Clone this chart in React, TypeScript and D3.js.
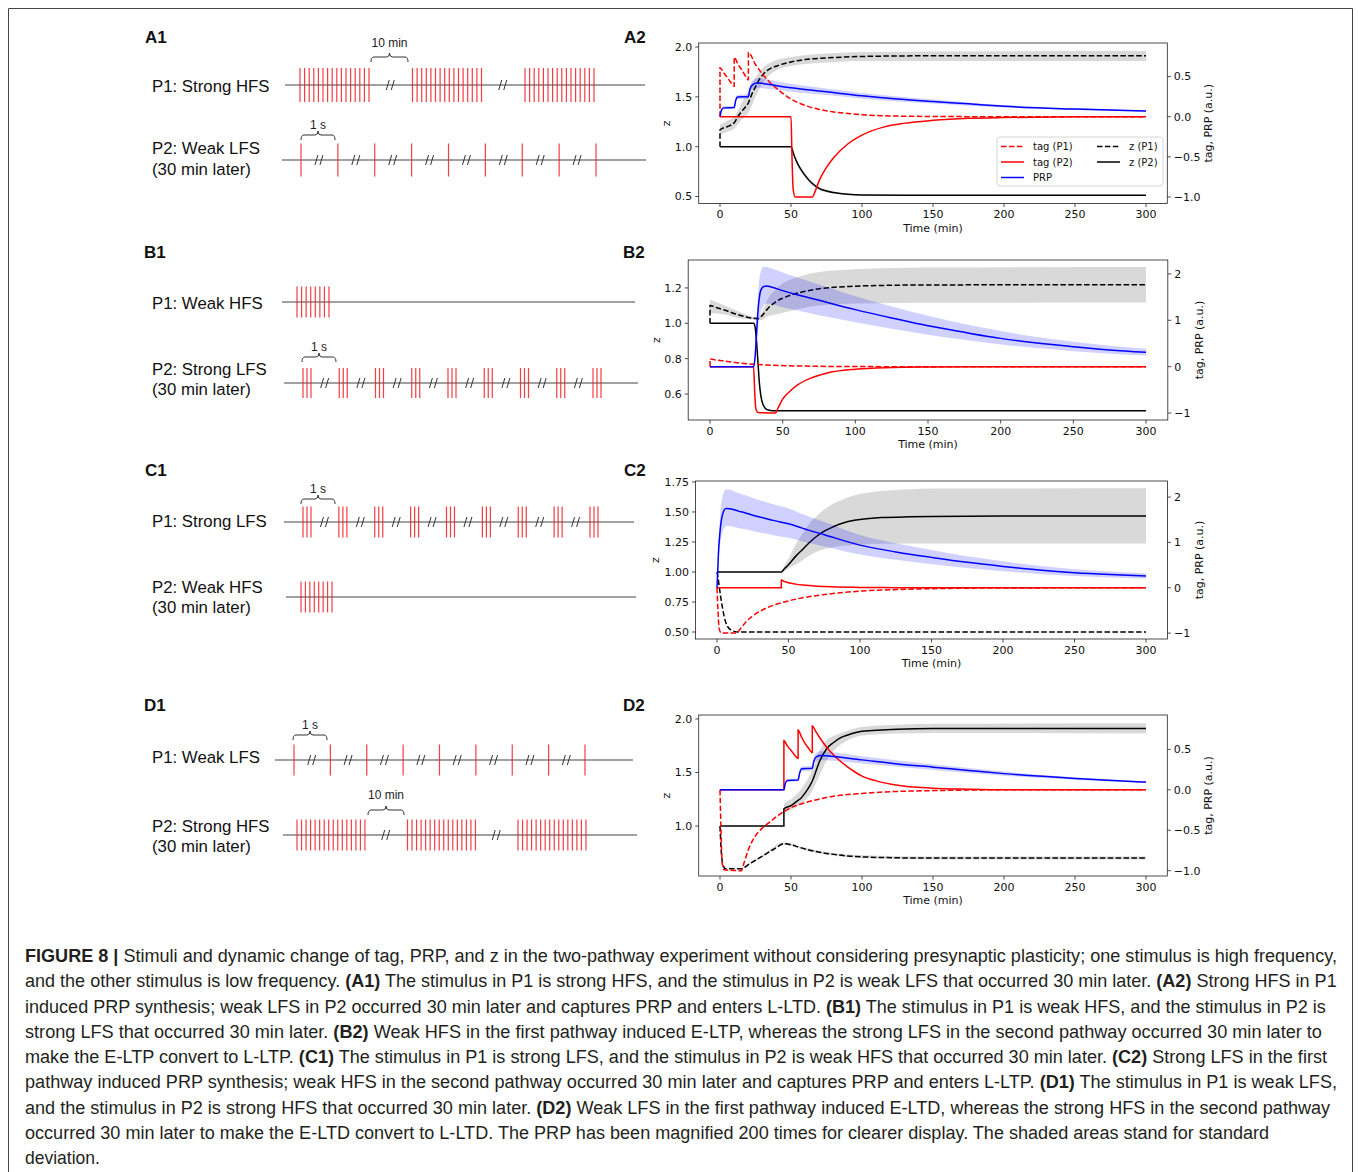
import * as d3 from 'd3'
import { useLayoutEffect, useRef, useState } from 'react'

type Pt = [number, number]
type Band = [number, number, number]

// ---------- time axis (shared) ----------
const TIME_TICKS = [0, 50, 100, 150, 200, 250, 300]

// ---------- A2 ----------
const A2_zTicks = [0.5, 1.0, 1.5, 2.0]
const A2_rTicks = [-1.0, -0.5, 0.0, 0.5]
const A2_tagP1: Pt[] = [[0, 0], [0, 0.61], [2.5, 0.55], [5, 0.49], [7.5, 0.43], [10, 0.38], [10, 0.74], [12.5, 0.66], [15, 0.59], [17.5, 0.52], [20, 0.46], [20, 0.8], [25, 0.65], [30, 0.53], [35, 0.43], [40, 0.35], [45, 0.28], [50, 0.22], [60, 0.14], [70, 0.09], [80, 0.06], [90, 0.04], [100, 0.025], [120, 0.01], [150, 0.003], [200, 0], [300, 0]]
const A2_tagP2: Pt[] = [[0, 0], [50, 0], [50.7, -0.5], [51.5, -0.9], [53, -1], [65, -1], [67, -0.93], [70, -0.79], [75, -0.63], [80, -0.51], [90, -0.34], [100, -0.23], [115, -0.13], [130, -0.08], [150, -0.045], [175, -0.02], [200, -0.01], [250, -0.002], [300, 0]]
const A2_PRP: Pt[] = [[0, 0], [1, 0.08], [2.5, 0.11], [10, 0.115], [11, 0.2], [12.5, 0.245], [20, 0.25], [21, 0.34], [23, 0.4], [26, 0.42], [30, 0.415], [40, 0.385], [50, 0.36], [75, 0.31], [100, 0.26], [125, 0.22], [150, 0.19], [175, 0.16], [200, 0.13], [250, 0.095], [300, 0.07]]
const A2_prpBand: Band[] = [[0, 0, 0], [1, 0.065, 0.095], [2.5, 0.09, 0.13], [10, 0.1, 0.135], [11, 0.17, 0.23], [12.5, 0.22, 0.275], [20, 0.225, 0.28], [21, 0.3, 0.38], [23, 0.35, 0.45], [26, 0.36, 0.48], [30, 0.355, 0.475], [40, 0.335, 0.44], [50, 0.31, 0.41], [75, 0.27, 0.35], [100, 0.225, 0.295], [150, 0.165, 0.215], [200, 0.115, 0.145], [250, 0.085, 0.105], [300, 0.062, 0.078]]
const A2_zP1: Pt[] = [[0, 1.0], [0, 1.17], [5, 1.2], [10, 1.24], [12.5, 1.3], [15, 1.35], [17.5, 1.39], [20, 1.44], [22.5, 1.53], [25, 1.6], [27.5, 1.67], [30, 1.72], [35, 1.78], [40, 1.81], [50, 1.85], [60, 1.875], [75, 1.89], [100, 1.905], [150, 1.912], [200, 1.913], [300, 1.913]]
const A2_zP1Band: Band[] = [[0, 1.12, 1.22], [5, 1.15, 1.26], [10, 1.18, 1.3], [15, 1.27, 1.43], [20, 1.34, 1.56], [25, 1.5, 1.69], [30, 1.64, 1.79], [35, 1.72, 1.84], [40, 1.77, 1.87], [50, 1.81, 1.9], [75, 1.845, 1.935], [100, 1.86, 1.95], [300, 1.86, 1.96]]
const A2_zP2: Pt[] = [[0, 1.0], [50, 1.0], [52, 0.92], [55, 0.82], [58, 0.75], [60, 0.71], [65, 0.63], [70, 0.58], [75, 0.555], [80, 0.54], [90, 0.522], [100, 0.515], [150, 0.512], [300, 0.512]]
const A2_zP2Band: Band[] = [[50, 0.995, 1.005], [55, 0.8, 0.84], [60, 0.69, 0.73], [65, 0.61, 0.65], [70, 0.565, 0.595], [80, 0.53, 0.55], [100, 0.51, 0.52], [300, 0.508, 0.516]]

// ---------- B2 ----------
const B2_zTicks = [0.6, 0.8, 1.0, 1.2]
const B2_rTicks = [-1, 0, 1, 2]
const B2_zP1: Pt[] = [[0, 1.0], [0, 1.1], [5, 1.087], [10, 1.075], [15, 1.06], [20, 1.047], [25, 1.036], [30, 1.028], [33, 1.026], [36, 1.045], [40, 1.085], [45, 1.12], [50, 1.142], [60, 1.17], [75, 1.195], [100, 1.21], [125, 1.215], [150, 1.217], [300, 1.218]]
const B2_zP1Band: Band[] = [[0, 1.06, 1.135], [10, 1.05, 1.1], [20, 1.03, 1.065], [30, 1.02, 1.037], [33, 1.018, 1.035], [36, 1.02, 1.07], [40, 1.04, 1.14], [45, 1.05, 1.19], [50, 1.06, 1.225], [60, 1.08, 1.26], [75, 1.1, 1.29], [100, 1.112, 1.305], [150, 1.116, 1.315], [300, 1.117, 1.318]]
const B2_zP2: Pt[] = [[0, 1.0], [30, 1.0], [31, 0.98], [32, 0.9], [33, 0.78], [34, 0.66], [35, 0.59], [36.5, 0.54], [38, 0.52], [40, 0.51], [45, 0.505], [300, 0.505]]
const B2_tagP1: Pt[] = [[0, 0], [0, 0.165], [5, 0.14], [10, 0.12], [20, 0.08], [30, 0.05], [40, 0.035], [60, 0.015], [80, 0.006], [100, 0.002], [150, 0], [300, 0]]
const B2_tagP2: Pt[] = [[0, 0], [30, 0], [30.7, -0.5], [31.5, -0.9], [33, -0.99], [45, -1], [47, -0.88], [50, -0.7], [55, -0.53], [60, -0.4], [70, -0.24], [80, -0.14], [100, -0.055], [125, -0.02], [150, -0.008], [200, 0], [300, 0]]
const B2_PRP: Pt[] = [[0, 0], [30, 0], [31, 0.2], [32, 0.7], [33, 1.2], [34, 1.5], [35, 1.65], [37, 1.73], [39, 1.74], [42, 1.72], [50, 1.64], [60, 1.55], [75, 1.43], [100, 1.23], [125, 1.05], [150, 0.88], [175, 0.74], [200, 0.61], [225, 0.51], [250, 0.43], [275, 0.36], [300, 0.31]]
const B2_prpBand: Band[] = [[30, 0, 0], [31, 0.12, 0.28], [32, 0.45, 0.95], [33, 0.8, 1.55], [34, 1.05, 1.9], [35, 1.2, 2.05], [36.5, 1.3, 2.15], [39, 1.36, 2.15], [42, 1.35, 2.12], [50, 1.28, 2.03], [60, 1.21, 1.92], [75, 1.11, 1.77], [100, 0.96, 1.52], [125, 0.82, 1.3], [150, 0.69, 1.1], [175, 0.58, 0.92], [200, 0.48, 0.77], [225, 0.4, 0.64], [250, 0.335, 0.535], [275, 0.28, 0.45], [300, 0.24, 0.385]]

// ---------- C2 ----------
const C2_zTicks = [0.5, 0.75, 1.0, 1.25, 1.5, 1.75]
const C2_rTicks = [-1, 0, 1, 2]
const C2_zP1: Pt[] = [[0, 1.0], [1, 0.93], [2, 0.84], [3, 0.76], [4, 0.69], [5, 0.63], [6, 0.585], [7, 0.555], [8, 0.535], [10, 0.515], [12, 0.505], [15, 0.5], [300, 0.5]]
const C2_zP2: Pt[] = [[0, 1.0], [45, 1.0], [47, 1.025], [50, 1.06], [55, 1.13], [60, 1.19], [65, 1.25], [70, 1.3], [75, 1.34], [80, 1.37], [85, 1.395], [90, 1.415], [100, 1.437], [115, 1.453], [135, 1.46], [150, 1.463], [200, 1.466], [300, 1.467]]
const C2_zP2Band: Band[] = [[45, 1.0, 1.0], [47, 1.01, 1.05], [50, 1.03, 1.11], [55, 1.06, 1.23], [60, 1.1, 1.32], [65, 1.14, 1.41], [70, 1.17, 1.47], [75, 1.19, 1.52], [80, 1.205, 1.56], [90, 1.22, 1.615], [100, 1.23, 1.65], [115, 1.235, 1.675], [135, 1.238, 1.69], [150, 1.238, 1.695], [300, 1.238, 1.697]]
const C2_tagP1: Pt[] = [[0, 0], [0.7, -0.5], [1.5, -0.9], [3, -1], [14, -1], [16, -0.92], [18, -0.84], [20, -0.76], [25, -0.62], [30, -0.52], [35, -0.44], [40, -0.38], [50, -0.29], [60, -0.22], [75, -0.15], [100, -0.075], [125, -0.04], [150, -0.02], [200, -0.005], [300, 0]]
const C2_tagP2: Pt[] = [[0, 0], [45, 0], [45, 0.17], [47, 0.14], [50, 0.11], [55, 0.08], [60, 0.06], [70, 0.035], [80, 0.02], [100, 0.008], [125, 0.002], [150, 0], [300, 0]]
const C2_PRP: Pt[] = [[0, 0], [0.5, 0.35], [1, 0.75], [2, 1.2], [3, 1.48], [4, 1.63], [5, 1.71], [6, 1.745], [7, 1.75], [9, 1.74], [12, 1.72], [15, 1.69], [20, 1.65], [25, 1.6], [30, 1.56], [40, 1.48], [50, 1.41], [60, 1.31], [75, 1.17], [100, 0.94], [125, 0.79], [150, 0.67], [175, 0.56], [200, 0.47], [225, 0.39], [250, 0.33], [275, 0.29], [300, 0.26]]
const C2_prpBand: Band[] = [[0, 0, 0], [1, 0.55, 0.95], [2, 0.9, 1.5], [3, 1.12, 1.85], [4, 1.25, 2.02], [5, 1.32, 2.12], [6, 1.35, 2.16], [7, 1.36, 2.17], [9, 1.355, 2.16], [12, 1.34, 2.13], [15, 1.32, 2.09], [20, 1.29, 2.04], [25, 1.25, 1.98], [30, 1.22, 1.93], [40, 1.155, 1.835], [50, 1.1, 1.75], [60, 1.02, 1.62], [75, 0.91, 1.45], [100, 0.735, 1.165], [125, 0.615, 0.98], [150, 0.52, 0.83], [175, 0.435, 0.695], [200, 0.365, 0.585], [225, 0.305, 0.485], [250, 0.26, 0.41], [275, 0.225, 0.36], [300, 0.2, 0.32]]

// ---------- D2 ----------
const D2_zTicks = [1.0, 1.5, 2.0]
const D2_rTicks = [-1.0, -0.5, 0.0, 0.5]
const D2_zP1: Pt[] = [[0, 1.0], [0.7, 0.8], [1.5, 0.68], [2.5, 0.62], [4, 0.6], [15, 0.6], [20, 0.64], [25, 0.68], [30, 0.72], [35, 0.76], [40, 0.8], [45, 0.835], [50, 0.825], [55, 0.805], [60, 0.785], [70, 0.755], [80, 0.735], [90, 0.72], [100, 0.712], [125, 0.703], [150, 0.7], [300, 0.7]]
const D2_zP1Band: Band[] = [[15, 0.595, 0.605], [30, 0.71, 0.73], [45, 0.825, 0.848], [60, 0.772, 0.797], [80, 0.725, 0.748], [100, 0.7, 0.726], [150, 0.688, 0.715], [300, 0.686, 0.716]]
const D2_zP2: Pt[] = [[0, 1.0], [45, 1.0], [45, 1.16], [50, 1.19], [55, 1.24], [57, 1.26], [60, 1.31], [63, 1.37], [65, 1.42], [67, 1.49], [70, 1.6], [75, 1.72], [80, 1.78], [85, 1.825], [90, 1.85], [100, 1.885], [125, 1.905], [150, 1.91], [300, 1.91]]
const D2_zP2Band: Band[] = [[45, 1.12, 1.21], [50, 1.15, 1.25], [55, 1.19, 1.31], [60, 1.24, 1.4], [65, 1.33, 1.52], [70, 1.47, 1.7], [75, 1.61, 1.8], [80, 1.7, 1.84], [90, 1.8, 1.89], [100, 1.845, 1.925], [125, 1.865, 1.945], [150, 1.87, 1.955], [300, 1.865, 1.96]]
const D2_tagP1: Pt[] = [[0, 0], [0.7, -0.5], [1.5, -0.9], [3, -0.99], [15, -1], [17, -0.9], [20, -0.74], [25, -0.57], [30, -0.47], [35, -0.4], [40, -0.33], [45, -0.27], [50, -0.22], [60, -0.16], [75, -0.095], [100, -0.045], [125, -0.02], [150, -0.01], [200, 0], [300, 0]]
const D2_tagP2: Pt[] = [[0, 0], [45, 0], [45, 0.61], [47.5, 0.54], [50, 0.49], [52.5, 0.43], [55, 0.39], [55, 0.74], [57.5, 0.65], [60, 0.57], [62.5, 0.51], [65, 0.46], [65, 0.79], [67.5, 0.72], [70, 0.65], [75, 0.53], [80, 0.43], [85, 0.35], [90, 0.28], [95, 0.22], [100, 0.17], [110, 0.11], [125, 0.055], [150, 0.02], [175, 0.007], [200, 0], [300, 0]]
const D2_PRP: Pt[] = [[0, 0], [45, 0], [46, 0.08], [47.5, 0.115], [55, 0.12], [56, 0.2], [57.5, 0.26], [65, 0.265], [66, 0.35], [68, 0.41], [71, 0.425], [75, 0.42], [100, 0.37], [125, 0.32], [150, 0.28], [175, 0.24], [200, 0.2], [250, 0.14], [300, 0.095]]
const D2_prpBand: Band[] = [[45, 0, 0], [46, 0.065, 0.095], [47.5, 0.1, 0.135], [55, 0.105, 0.14], [56, 0.17, 0.23], [57.5, 0.23, 0.29], [65, 0.235, 0.295], [66, 0.31, 0.39], [68, 0.36, 0.46], [71, 0.37, 0.48], [75, 0.365, 0.475], [100, 0.325, 0.415], [150, 0.245, 0.315], [200, 0.175, 0.225], [250, 0.125, 0.155], [300, 0.087, 0.103]]

// ---------- stimulus protocols (pulses per group) ----------
const HFS_STRONG = [16, 16, 16]
const HFS_WEAK = [8]
const LFS_WEAK = [1, 1, 1, 1, 1, 1, 1, 1, 1]
const LFS_STRONG = [3, 3, 3, 3, 3, 3, 3, 3, 3]

const LEGEND = [
  { label: 'tag (P1)', color: 'red', dash: true },
  { label: 'tag (P2)', color: 'red', dash: false },
  { label: 'PRP', color: 'blue', dash: false },
  { label: 'z (P1)', color: 'black', dash: true },
  { label: 'z (P2)', color: 'black', dash: false },
]

const CAPTION: [string, boolean][][] = [
  [['FIGURE 8 | ', true], ['Stimuli and dynamic change of tag, PRP, and z in the two-pathway experiment without considering presynaptic plasticity; one stimulus is high frequency,', false]],
  [['and the other stimulus is low frequency. ', false], ['(A1)', true], [' The stimulus in P1 is strong HFS, and the stimulus in P2 is weak LFS that occurred 30 min later. ', false], ['(A2)', true], [' Strong HFS in P1', false]],
  [['induced PRP synthesis; weak LFS in P2 occurred 30 min later and captures PRP and enters L-LTD. ', false], ['(B1)', true], [' The stimulus in P1 is weak HFS, and the stimulus in P2 is', false]],
  [['strong LFS that occurred 30 min later. ', false], ['(B2)', true], [' Weak HFS in the first pathway induced E-LTP, whereas the strong LFS in the second pathway occurred 30 min later to', false]],
  [['make the E-LTP convert to L-LTP. ', false], ['(C1)', true], [' The stimulus in P1 is strong LFS, and the stimulus in P2 is weak HFS that occurred 30 min later. ', false], ['(C2)', true], [' Strong LFS in the first', false]],
  [['pathway induced PRP synthesis; weak HFS in the second pathway occurred 30 min later and captures PRP and enters L-LTP. ', false], ['(D1)', true], [' The stimulus in P1 is weak LFS,', false]],
  [['and the stimulus in P2 is strong HFS that occurred 30 min later. ', false], ['(D2)', true], [' Weak LFS in the first pathway induced E-LTD, whereas the strong HFS in the second pathway', false]],
  [['occurred 30 min later to make the E-LTD convert to L-LTD. The PRP has been magnified 200 times for clearer display. The shaded areas stand for standard', false]],
  [['deviation.', false]],
]
const CAPTION_ENDS = [1338, 1337, 1327, 1323, 1329, 1338, 1332, 1270, 100]

// ---------- layout ----------
const PANELS = [
  {
    id: 'A2', x0: 698.7, x1: 1167.3, y0: 43, y1: 203.5, zDomain: [0.43, 2.04], rDomain: [-1.081, 0.918],
    zTicks: A2_zTicks, zFmt: '.1f', rTicks: A2_rTicks, rFmt: '.1f', zTitleX: 666, rTitleX: 1208, legend: true,
    zBands: [A2_zP1Band, A2_zP2Band], zP1: A2_zP1, zP2: A2_zP2, tagP1: A2_tagP1, tagP2: A2_tagP2, prp: A2_PRP, prpBand: A2_prpBand,
  },
  {
    id: 'B2', x0: 688.2, x1: 1167.8, y0: 260, y1: 420, zDomain: [0.453, 1.358], rDomain: [-1.15, 2.3],
    zTicks: B2_zTicks, zFmt: '.1f', rTicks: B2_rTicks, rFmt: 'd', zTitleX: 656, rTitleX: 1199, legend: false,
    zBands: [B2_zP1Band], zP1: B2_zP1, zP2: B2_zP2, tagP1: B2_tagP1, tagP2: B2_tagP2, prp: B2_PRP, prpBand: B2_prpBand,
  },
  {
    id: 'C2', x0: 695.55, x1: 1167.45, y0: 481, y1: 639, zDomain: [0.4417, 1.758], rDomain: [-1.13, 2.354],
    zTicks: C2_zTicks, zFmt: '.2f', rTicks: C2_rTicks, rFmt: 'd', zTitleX: 655, rTitleX: 1199, legend: false,
    zBands: [C2_zP2Band], zP1: C2_zP1, zP2: C2_zP2, tagP1: C2_tagP1, tagP2: C2_tagP2, prp: C2_PRP, prpBand: C2_prpBand,
  },
  {
    id: 'D2', x0: 698.7, x1: 1167.3, y0: 715, y1: 876, zDomain: [0.533, 2.037], rDomain: [-1.066, 0.925],
    zTicks: D2_zTicks, zFmt: '.1f', rTicks: D2_rTicks, rFmt: '.1f', zTitleX: 666, rTitleX: 1208, legend: false,
    zBands: [D2_zP1Band, D2_zP2Band], zP1: D2_zP1, zP2: D2_zP2, tagP1: D2_tagP1, tagP2: D2_tagP2, prp: D2_PRP, prpBand: D2_prpBand,
  },
]

const STIM_ROWS = [
  { groups: HFS_STRONG, start: 300, end: 525, inner: 4.6, lineY: 85, lineX: [285, 645], half: 17, breaks: true, labels: [['P1: Strong HFS', 92]], brace: { x0: 371, x1: 408, y: 57, ty: 47, text: '10 min' } },
  { groups: LFS_WEAK, start: 301, end: 596, inner: 0, lineY: 160, lineX: [282, 646], half: 16.5, breaks: true, labels: [['P2: Weak LFS', 154], ['(30 min later)', 175]], brace: { x0: 301, x1: 335, y: 135, ty: 129, text: '1 s' } },
  { groups: HFS_WEAK, start: 297, end: 297, inner: 4.57, lineY: 302, lineX: [282, 635], half: 15.5, breaks: false, labels: [['P1: Weak HFS', 309]], brace: null },
  { groups: LFS_STRONG, start: 303, end: 593, inner: 4, lineY: 383, lineX: [284, 638], half: 15, breaks: true, labels: [['P2: Strong LFS', 375], ['(30 min later)', 395]], brace: { x0: 302, x1: 336, y: 357, ty: 351, text: '1 s' } },
  { groups: LFS_STRONG, start: 303, end: 590, inner: 4, lineY: 522, lineX: [284, 634], half: 15.5, breaks: true, labels: [['P1: Strong LFS', 527]], brace: { x0: 301, x1: 335, y: 499, ty: 493, text: '1 s' } },
  { groups: HFS_WEAK, start: 301, end: 301, inner: 4.43, lineY: 597, lineX: [286, 636], half: 15.5, breaks: false, labels: [['P2: Weak HFS', 593], ['(30 min later)', 613]], brace: null },
  { groups: LFS_WEAK, start: 294, end: 585, inner: 0, lineY: 760, lineX: [275, 633], half: 15.5, breaks: true, labels: [['P1: Weak LFS', 763]], brace: { x0: 293, x1: 327, y: 735, ty: 729, text: '1 s' } },
  { groups: HFS_STRONG, start: 297, end: 518, inner: 4.53, lineY: 835, lineX: [283, 637], half: 15.5, breaks: true, labels: [['P2: Strong HFS', 832], ['(30 min later)', 852]], brace: { x0: 368, x1: 404, y: 810, ty: 799, text: '10 min' } },
]

const LETTERS: [string, number, number][] = [
  ['A1', 145, 43], ['A2', 624, 43], ['B1', 144, 258], ['B2', 623, 258],
  ['C1', 145, 476], ['C2', 624, 476], ['D1', 144, 711], ['D2', 623, 711],
]

const SANS = "'Liberation Sans', Arial, Helvetica, sans-serif"
const MPL = "'DejaVu Sans', sans-serif"
const DASH = '5.5,2.4'

function Panel({ p }: { p: any }) {
  const x = d3.scaleLinear().domain([-15, 315]).range([p.x0, p.x1])
  const yz = d3.scaleLinear().domain(p.zDomain).range([p.y1, p.y0])
  const yr = d3.scaleLinear().domain(p.rDomain).range([p.y1, p.y0])
  const lz = d3.line<Pt>().x((d) => x(d[0])).y((d) => yz(d[1])).curve(d3.curveMonotoneX)
  const lr = d3.line<Pt>().x((d) => x(d[0])).y((d) => yr(d[1])).curve(d3.curveMonotoneX)
  const az = d3.area<Band>().x((d) => x(d[0])).y0((d) => yz(d[1])).y1((d) => yz(d[2])).curve(d3.curveMonotoneX)
  const ar = d3.area<Band>().x((d) => x(d[0])).y0((d) => yr(d[1])).y1((d) => yr(d[2])).curve(d3.curveMonotoneX)
  const fz = d3.format(p.zFmt)
  const fr = d3.format(p.rFmt)
  const clip = `clip-${p.id}`
  const cy = (p.y0 + p.y1) / 2
  const lg = { x: 997, y: 137, w: 166, h: 49 }

  return (
    <g>
      <defs>
        <clipPath id={clip}>
          <rect x={p.x0} y={p.y0} width={p.x1 - p.x0} height={p.y1 - p.y0} />
        </clipPath>
      </defs>
      <g clipPath={`url(#${clip})`} fill="none" strokeWidth={1.5}>
        {p.zBands.map((b: Band[], i: number) => (
          <path key={i} d={az(b) || ''} fill="#808080" fillOpacity={0.3} stroke="none" />
        ))}
        <path d={lz(p.zP1) || ''} stroke="black" strokeDasharray={DASH} />
        <path d={lz(p.zP2) || ''} stroke="black" />
        <path d={ar(p.prpBand) || ''} fill="blue" fillOpacity={0.18} stroke="none" />
        <path d={lr(p.tagP1) || ''} stroke="red" strokeDasharray={DASH} />
        <path d={lr(p.tagP2) || ''} stroke="red" />
        <path d={lr(p.prp) || ''} stroke="blue" />
      </g>
      <rect x={p.x0} y={p.y0} width={p.x1 - p.x0} height={p.y1 - p.y0} fill="none" stroke="#222" strokeWidth={0.8} />
      <g fontFamily={MPL} fontSize={11} fill="#111">
        {TIME_TICKS.map((t) => (
          <g key={t}>
            <line x1={x(t)} x2={x(t)} y1={p.y1} y2={p.y1 + 3.5} stroke="#222" strokeWidth={0.8} />
            <text x={x(t)} y={p.y1 + 14.5} textAnchor="middle">{t}</text>
          </g>
        ))}
        <text x={(p.x0 + p.x1) / 2} y={p.y1 + 28} textAnchor="middle">Time (min)</text>
        {p.zTicks.map((v: number) => (
          <g key={v}>
            <line x1={p.x0 - 3.5} x2={p.x0} y1={yz(v)} y2={yz(v)} stroke="#222" strokeWidth={0.8} />
            <text x={p.x0 - 6.5} y={yz(v)} dy="0.35em" textAnchor="end">{fz(v)}</text>
          </g>
        ))}
        {p.rTicks.map((v: number) => (
          <g key={v}>
            <line x1={p.x1} x2={p.x1 + 3.5} y1={yr(v)} y2={yr(v)} stroke="#222" strokeWidth={0.8} />
            <text x={p.x1 + 6.5} y={yr(v)} dy="0.35em">{fr(v)}</text>
          </g>
        ))}
        <text transform={`translate(${p.zTitleX},${cy}) rotate(-90)`} textAnchor="middle" dy="0.35em">z</text>
        <text transform={`translate(${p.rTitleX},${cy}) rotate(-90)`} textAnchor="middle" dy="0.35em">tag, PRP (a.u.)</text>
      </g>
      {p.legend && (
        <g fontFamily={MPL} fontSize={10} fill="#111">
          <rect x={lg.x} y={lg.y} width={lg.w} height={lg.h} rx={3} fill="white" fillOpacity={0.85} stroke="#ccc" strokeWidth={0.8} />
          {LEGEND.map((e, i) => {
            const col = i < 3 ? 0 : 1
            const row = i < 3 ? i : i - 3
            const lx = lg.x + 4 + col * 96
            const ly = lg.y + 9.5 + row * 15.5
            return (
              <g key={e.label}>
                <line x1={lx} x2={lx + 23} y1={ly} y2={ly} stroke={e.color} strokeWidth={1.5} strokeDasharray={e.dash ? DASH : undefined} />
                <text x={lx + 32} y={ly} dy="0.35em">{e.label}</text>
              </g>
            )
          })}
        </g>
      )}
    </g>
  )
}

function Brace({ b }: { b: any }) {
  const xm = (b.x0 + b.x1) / 2
  const y = b.y
  const d = `M${b.x0},${y + 5} Q${b.x0},${y} ${b.x0 + 3},${y} L${xm - 3},${y} Q${xm},${y} ${xm},${y - 4} Q${xm},${y} ${xm + 3},${y} L${b.x1 - 3},${y} Q${b.x1},${y} ${b.x1},${y + 5}`
  return (
    <g>
      <path d={d} fill="none" stroke="#333" strokeWidth={1} />
      <text x={xm} y={b.ty} textAnchor="middle" fontFamily={SANS} fontSize={12} fill="#222">{b.text}</text>
    </g>
  )
}

function StimRow({ r }: { r: any }) {
  const gx = d3.scaleLinear().domain([0, Math.max(r.groups.length - 1, 1)]).range([r.start, r.end])
  const pulses: number[] = []
  r.groups.forEach((n: number, i: number) => {
    for (let j = 0; j < n; j++) pulses.push(gx(i) + j * r.inner)
  })
  const breaks: number[] = []
  if (r.breaks) {
    for (let i = 0; i < r.groups.length - 1; i++) {
      breaks.push((gx(i) + (r.groups[i] - 1) * r.inner + gx(i + 1)) / 2)
    }
  }
  const y = r.lineY
  return (
    <g>
      {r.labels.map(([t, ty]: [string, number]) => (
        <text key={t} x={152} y={ty} fontFamily={SANS} fontSize={16.8} fill="#111">{t}</text>
      ))}
      <line x1={r.lineX[0]} x2={r.lineX[1]} y1={y} y2={y} stroke="#444" strokeWidth={1.1} />
      {pulses.map((px, i) => (
        <line key={i} x1={px} x2={px} y1={y - r.half} y2={y + r.half} stroke="#f01c24" strokeWidth={1.2} strokeOpacity={0.85} />
      ))}
      {breaks.map((bx, i) => (
        <g key={i} stroke="#333" strokeWidth={1}>
          <line x1={bx - 4.5} y1={y + 5} x2={bx - 1.5} y2={y - 5} />
          <line x1={bx + 0.5} y1={y + 5} x2={bx + 3.5} y2={y - 5} />
        </g>
      ))}
      {r.brace && <Brace b={r.brace} />}
    </g>
  )
}

// caption line: measured once, then squeezed horizontally to the width it has in the figure
function CaptionLine({ parts, y, end }: { parts: [string, boolean][]; y: number; end: number }) {
  const ref = useRef<SVGTextElement>(null)
  const [sx, setSx] = useState(1)
  useLayoutEffect(() => {
    if (!ref.current) return
    const w = ref.current.getBBox().width
    if (w > 0 && end - 25 < w) setSx((end - 25) / w)
  }, [end])
  return (
    <text ref={ref} transform={`translate(25,${y}) scale(${sx},1)`}>
      {parts.map(([s, b], j) => (
        <tspan key={j} fontWeight={b ? 'bold' : 'normal'}>{s}</tspan>
      ))}
    </text>
  )
}

export default function App() {
  return (
    <svg width={1358} height={1172} style={{ position: 'absolute', left: 0, top: 0, background: 'white' }}>
      <rect x={0} y={0} width={1358} height={1172} fill="white" />
      <path d="M8.5,1172 V8.5 H1352.5 V1172" fill="none" stroke="#444" strokeWidth={1} />
      {LETTERS.map(([t, lx, ly]) => (
        <text key={t} x={lx} y={ly} fontFamily={SANS} fontWeight="bold" fontSize={17} fill="#111">{t}</text>
      ))}
      {STIM_ROWS.map((r, i) => <StimRow key={i} r={r} />)}
      {PANELS.map((p) => <Panel key={p.id} p={p} />)}
      <g fontFamily="'Liberation Sans Narrow', 'Arial Narrow', 'Liberation Sans', Arial, sans-serif" fontSize={19} fill="#231f20">
        {CAPTION.map((line, i) => (
          <CaptionLine key={i} parts={line} y={962 + i * 25.25} end={CAPTION_ENDS[i]} />
        ))}
      </g>
    </svg>
  )
}
